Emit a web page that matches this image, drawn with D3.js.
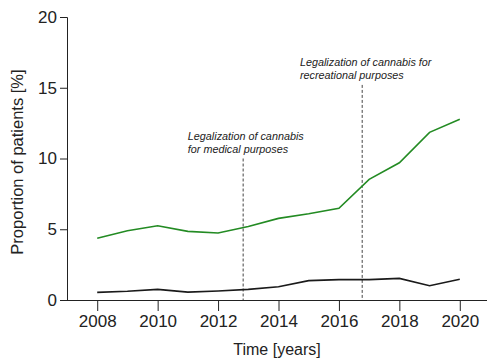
<!DOCTYPE html>
<html><head><meta charset="utf-8">
<script src="https://cdn.jsdelivr.net/npm/d3@7"></script>
<style>body{margin:0;background:#fff}svg{display:block;font-family:"Liberation Sans",Arial,sans-serif}</style>
</head><body>
<svg id="c" width="487" height="361"></svg>
<script>
const years = [2008,2009,2010,2011,2012,2013,2014,2015,2016,2017,2018,2019,2020];
const greenSeries = [4.36,4.9,5.25,4.85,4.73,5.2,5.77,6.1,6.48,8.53,9.7,11.85,12.77];
const blackSeries = [0.54,0.62,0.75,0.56,0.64,0.75,0.94,1.37,1.44,1.44,1.53,1.01,1.46];
const xTicks = [2008,2010,2012,2014,2016,2018,2020];
const yTicks = [0,5,10,15,20];
const events = [
  {year:2012.83, top:10, lines:["Legalization of cannabis","for medical purposes"], tx:2011.0},
  {year:2016.77, top:15.2, lines:["Legalization of cannabis for","recreational purposes"], tx:2014.71}
];

const svg = d3.select("#c");
const x = d3.scaleLinear().domain([2007,2021]).range([67,490]);
const y = d3.scaleLinear().domain([0,20]).range([300,17]);
const ink = "#222";

const xAxis = svg.append("g").attr("transform","translate(0,300)")
  .call(d3.axisBottom(x).tickValues(xTicks).tickFormat(d3.format("d")).tickSize(11).tickPadding(4));
const yAxis = svg.append("g").attr("transform","translate(67,0)")
  .call(d3.axisLeft(y).tickValues(yTicks).tickSize(7).tickPadding(3));
[xAxis,yAxis].forEach(g=>{
  g.select(".domain").attr("stroke",ink).attr("stroke-width",1);
  g.selectAll(".tick line").attr("stroke",ink);
  g.selectAll(".tick text").attr("fill",ink).attr("font-size",17).attr("font-family","'Liberation Sans',Arial,sans-serif");
});
xAxis.select(".domain").attr("d","M67,0.5H487");

svg.append("text").attr("x",277).attr("y",355).attr("text-anchor","middle")
  .attr("font-size",16).attr("fill",ink).text("Time [years]");
svg.append("text").attr("transform","translate(23,162) rotate(-90)").attr("text-anchor","middle")
  .attr("font-size",16.5).attr("fill",ink).text("Proportion of patients [%]");

events.forEach(e=>{
  svg.append("line").attr("x1",x(e.year)).attr("x2",x(e.year)).attr("y1",y(e.top)).attr("y2",y(0))
    .attr("stroke","#444").attr("stroke-width",1).attr("stroke-dasharray","3,2");
});

const line = d3.line().x((d,i)=>x(years[i])).y(d=>y(d));
svg.append("path").datum(greenSeries).attr("d",line).attr("fill","none").attr("stroke","#238b23").attr("stroke-width",1.6);
svg.append("path").datum(blackSeries).attr("d",line).attr("fill","none").attr("stroke","#1a1a1a").attr("stroke-width",1.6);

events.forEach(e=>{
  const t = svg.append("text").attr("font-size",10.8).attr("font-style","italic").attr("fill",ink);
  e.lines.forEach((l,i)=>t.append("tspan").attr("x",x(e.tx)).attr("y",y(e.top)-19+i*13).text(l));
});
</script>
</body></html>
